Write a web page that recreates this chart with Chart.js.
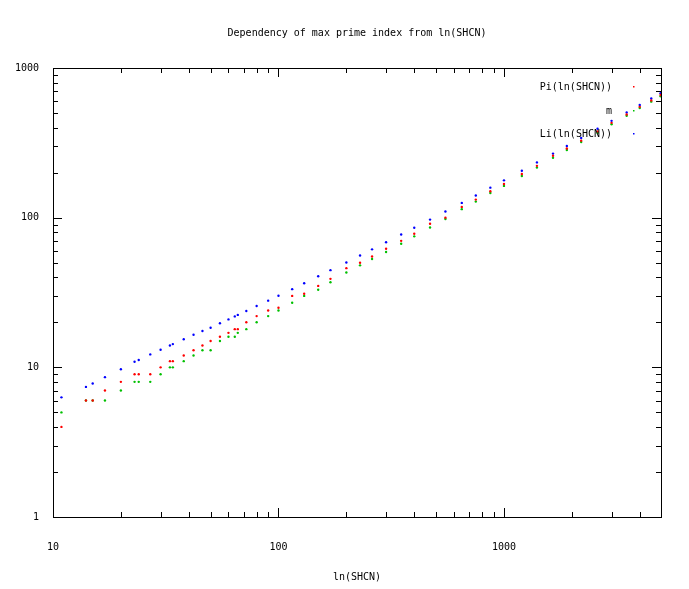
<!DOCTYPE html>
<html>
<head>
<meta charset="utf-8">
<script src="https://cdn.jsdelivr.net/npm/chart.js@4/dist/chart.umd.min.js"></script>
<style>
  body { margin: 0; background: #fff; }
  #wrap { width: 689px; height: 589px; }
</style>
</head>
<body>
<div id="wrap"><canvas id="chart"></canvas></div>
<script>
// ln(SHCN) values and the three series
const lnShcn = [10.9, 14, 15, 17, 20, 23, 24, 27, 30, 33, 34, 38, 42, 46, 50, 55, 60, 64, 66, 72,
  80, 90, 100, 115, 130, 150, 170, 200, 230, 260, 300, 350, 400, 470, 550, 650, 750, 870, 1000,
  1200, 1400, 1650, 1900, 2200, 2600, 3000, 3500, 4000, 4500, 4950];
const piVals = [4, 6, 6, 7, 8, 9, 9, 9, 10, 11, 11, 12, 13, 14, 15, 16, 17, 18, 18, 20,
  22, 24, 25, 30, 31, 35, 39, 46, 50, 55, 62, 70, 78, 91, 100, 118, 132, 150, 168,
  196, 222, 259, 290, 327, 377, 430, 489, 550, 607, 660];
const mVals = [5, 6, 6, 6, 7, 8, 8, 8, 9, 10, 10, 11, 12, 13, 13, 15, 16, 16, 17, 18,
  20, 22, 24, 27, 30, 33, 37, 43, 48, 53, 59, 67, 75, 86, 98, 114, 128, 146, 163,
  190, 216, 251, 283, 320, 369, 421, 480, 540, 596, 648];
const liVals = [6.3, 7.4, 7.8, 8.6, 9.7, 10.9, 11.2, 12.2, 13.1, 14.0, 14.3, 15.4, 16.5, 17.5, 18.4, 19.7, 20.9, 21.9, 22.4, 23.8,
  25.7, 27.9, 30.1, 33.3, 36.5, 40.6, 44.6, 50.2, 55.9, 61.4, 68.5, 77.1, 85.6, 97.1, 109.9, 125.5, 140.8, 158.7, 177.6,
  206, 234, 268, 301.5, 341, 393, 443.6, 505, 566, 626, 679];
const decades = [1, 10, 100, 1000];

const FONT = '"DejaVu Sans Mono", monospace';

const pts = (ys) => lnShcn.map((x, i) => ({ x, y: ys[i] }));

const gnuplotFrame = {
  id: 'gnuplotFrame',
  afterDraw(chart) {
    const { ctx, chartArea: a, scales } = chart;
    const xs = scales.x, ys = scales.y;
    ctx.save();
    ctx.strokeStyle = '#000';
    ctx.lineWidth = 1;
    ctx.strokeRect(a.left + 0.5, a.top + 0.5, a.right - a.left, a.bottom - a.top);
    ctx.beginPath();
    for (let d = 10; d <= 1000; d *= 10) {
      for (let k = 1; k <= 9; k++) {
        const v = d * k;
        if (v > xs.max) break;
        const px = Math.round(xs.getPixelForValue(v)) + 0.5;
        const len = k === 1 ? 9 : 5;
        ctx.moveTo(px, a.bottom); ctx.lineTo(px, a.bottom - len);
        ctx.moveTo(px, a.top); ctx.lineTo(px, a.top + len);
      }
    }
    for (let d = 1; d <= 1000; d *= 10) {
      for (let k = 1; k <= 9; k++) {
        const v = d * k;
        if (v > ys.max) break;
        const py = Math.round(ys.getPixelForValue(v)) + 0.5;
        const len = k === 1 ? 9 : 5;
        ctx.moveTo(a.left, py); ctx.lineTo(a.left + len, py);
        ctx.moveTo(a.right, py); ctx.lineTo(a.right - len, py);
      }
    }
    ctx.stroke();

    ctx.fillStyle = '#000';
    ctx.font = '10px ' + FONT;
    ctx.textAlign = 'center';
    ctx.textBaseline = 'middle';
    ctx.fillText('Dependency of max prime index from ln(SHCN)', 357, 33);
    ctx.fillText('ln(SHCN)', 357, 577);

    // key
    ctx.textAlign = 'right';
    const key = [['Pi(ln(SHCN))', '#ff0000', 87], ['m', '#00c000', 111], ['Li(ln(SHCN))', '#0000ff', 134]];
    key.forEach(([t, c, y]) => {
      ctx.fillStyle = '#000';
      ctx.fillText(t, 612, y);
      ctx.fillStyle = c;
      ctx.fillRect(633, y - 1, 1.5, 1.5);
    });
    ctx.restore();
  }
};

new Chart(document.getElementById('chart'), {
  type: 'scatter',
  data: {
    datasets: [
      { label: 'Pi(ln(SHCN))', data: pts(piVals), backgroundColor: '#ff0000', borderWidth: 0, pointRadius: 1.2 },
      { label: 'm', data: pts(mVals), backgroundColor: '#00c000', borderWidth: 0, pointRadius: 1.2 },
      { label: 'Li(ln(SHCN))', data: pts(liVals), backgroundColor: '#0000ff', borderWidth: 0, pointRadius: 1.2 },
    ]
  },
  options: {
    responsive: true,
    maintainAspectRatio: false,
    animation: false,
    devicePixelRatio: 1,
    layout: { padding: { top: 68, right: 28, left: 0, bottom: 0 } },
    plugins: { legend: { display: false }, tooltip: { enabled: false } },
    scales: {
      x: {
        type: 'logarithmic', min: 10, max: 4970,
        grid: { display: false }, border: { display: false },
        afterBuildTicks: (s) => { s.ticks = [10, 100, 1000].map(v => ({ value: v })); },
        afterFit: (s) => { s.height = 72; },
        ticks: { color: '#000', font: { family: FONT, size: 10 }, padding: 16, maxRotation: 0,
          callback: (v) => String(v) }
      },
      y: {
        type: 'logarithmic', min: 1, max: 1000,
        grid: { display: false }, border: { display: false },
        afterBuildTicks: (s) => { s.ticks = decades.map(v => ({ value: v })); },
        afterFit: (s) => { s.width = 53; },
        ticks: { color: '#000', font: { family: FONT, size: 10 }, padding: 6,
          callback: (v) => String(v) }
      }
    }
  },
  plugins: [gnuplotFrame]
});
</script>
</body>
</html>
